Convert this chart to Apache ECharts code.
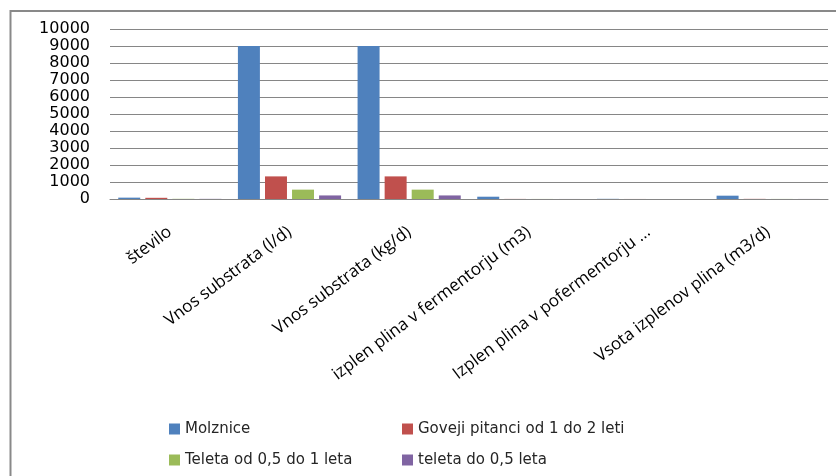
<!DOCTYPE html>
<html>
<head>
<meta charset="utf-8">
<script src="https://cdn.jsdelivr.net/npm/echarts@6/dist/echarts.min.js"></script>
<style>
  html, body { margin: 0; padding: 0; background: #ffffff; }
  #chart { width: 836px; height: 476px; }
</style>
</head>
<body>
<div id="chart"></div>
<script>
// Categories along the x axis
const categories = [
  'število',
  'Vnos substrata (l/d)',
  'Vnos substrata (kg/d)',
  'izplen plina v fermentorju (m3)',
  'Izplen plina v pofermentorju ...',
  'Vsota izplenov plina (m3/d)'
];

// Series values per category
const molznice = [80, 9000, 9000, 135, 10, 195];
const govejiPitanci = [70, 1330, 1330, 5, 2, 8];
const teletaOd05do1 = [10, 550, 550, 3, 1, 4];
const teletaDo05 = [8, 210, 210, 2, 1, 3];

// Y axis range
const yMin = 0;
const yMax = 10000;
const yStep = 1000;

const seriesNames = [
  'Molznice',
  'Goveji pitanci od 1 do 2 leti',
  'Teleta od 0,5 do 1 leta',
  'teleta do 0,5 leta'
];
const seriesData = [molznice, govejiPitanci, teletaOd05do1, teletaDo05];
const colors = ['#4F81BD', '#C0504D', '#9BBB59', '#8064A2'];

const legendPos = [
  { left: 164, top: 415 },
  { left: 397, top: 415 },
  { left: 164, top: 446 },
  { left: 397, top: 446 }
];

const chart = echarts.init(document.getElementById('chart'), null, { renderer: 'canvas' });

chart.setOption({
  animation: false,
  backgroundColor: '#ffffff',
  color: colors,
  graphic: [{
    type: 'rect',
    shape: { x: 10.5, y: 11, width: 900, height: 600 },
    style: { fill: 'none', stroke: '#898989', lineWidth: 2 },
    silent: true,
    z: 100
  }],
  grid: { left: 110, right: 8, top: 29, bottom: 277, containLabel: false },
  legend: seriesNames.map((name, i) => ({
    data: [name],
    left: legendPos[i].left,
    top: legendPos[i].top,
    itemWidth: 11,
    itemHeight: 11,
    icon: 'rect',
    textStyle: { fontFamily: 'DejaVu Sans', fontSize: 15, color: '#262626', lineHeight: 18 }
  })),
  xAxis: {
    type: 'category',
    data: categories,
    axisLine: { show: true, lineStyle: { color: '#868686', width: 1 } },
    axisTick: { show: false },
    axisLabel: {
      interval: 0,
      rotate: 37,
      margin: 31,
      fontFamily: 'Open Sans',
      fontSize: 17,
      color: '#000000'
    }
  },
  yAxis: {
    type: 'value',
    min: yMin,
    max: yMax,
    interval: yStep,
    axisLine: { show: false },
    axisTick: { show: false },
    splitLine: { show: true, lineStyle: { color: '#868686', width: 1 } },
    axisLabel: {
      margin: 20,
      fontFamily: 'DejaVu Sans',
      fontSize: 16,
      color: '#000000',
      formatter: (v) => String(v)
    }
  },
  series: seriesNames.map((name, i) => ({
    name: name,
    type: 'bar',
    data: seriesData[i],
    barWidth: 22,
    barGap: '23%',
    itemStyle: { color: colors[i] }
  }))
});
</script>
</body>
</html>
